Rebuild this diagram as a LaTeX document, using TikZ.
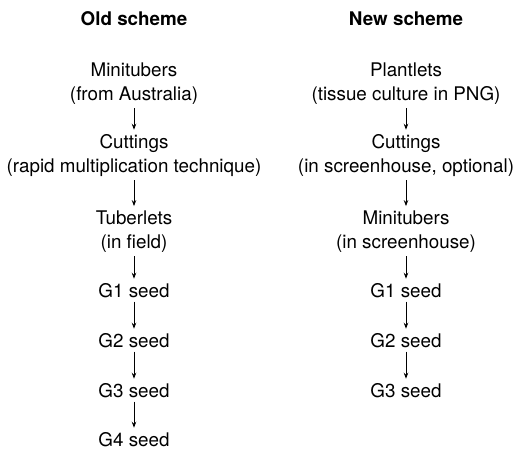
\documentclass[tikz,border=0pt]{standalone}
\usepackage{fontspec}
\setmainfont{TeX Gyre Heros}
\usetikzlibrary{arrows.meta}

\begin{document}
\begin{tikzpicture}[x=1pt, y=-1pt,
    stage/.style={font=\fontsize{18.8}{24}\selectfont, align=center,
                  inner sep=0pt, anchor=base},
    head/.style={stage, font=\fontsize{18.8}{24}\selectfont\bfseries},
    flow/.style={-{Stealth[length=6pt, width=4.5pt]}, line width=0.9pt,
                 shorten <=4pt, shorten >=4pt}]
  \useasboundingbox (0,0) rectangle (523,450);

  % Headers
  \node[head] (oldhead) at (134,25) {Old scheme};
  \node[head] (newhead) at (406,25) {New scheme};

  % Old scheme (base = last line)
  \node[stage] (oldmini) at (134,100) {Minitubers\\(from Australia)};
  \node[stage] (oldcut)  at (134,172) {Cuttings\\(rapid multiplication technique)};
  \node[stage] (oldtub)  at (134,248) {Tuberlets\\(in field)};
  \node[stage] (oldga)   at (134,297) {G1 seed};
  \node[stage] (oldgb)   at (134,347) {G2 seed};
  \node[stage] (oldgc)   at (134,397) {G3 seed};
  \node[stage] (oldgd)   at (134,446) {G4 seed};

  % New scheme
  \node[stage] (newplant) at (406,100) {Plantlets\\(tissue culture in PNG)};
  \node[stage] (newcut)   at (406,172) {Cuttings\\(in screenhouse, optional)};
  \node[stage] (newmini)  at (406,248) {Minitubers\\(in screenhouse)};
  \node[stage] (newga)    at (406,297) {G1 seed};
  \node[stage] (newgb)    at (406,347) {G2 seed};
  \node[stage] (newgc)    at (406,397) {G3 seed};

  % Arrows
  \draw[flow] (oldmini) -- (oldcut);
  \draw[flow] (oldcut) -- (oldtub);
  \draw[flow] (oldtub) -- (oldga);
  \draw[flow] (oldga) -- (oldgb);
  \draw[flow] (oldgb) -- (oldgc);
  \draw[flow] (oldgc) -- (oldgd);
  \draw[flow] (newplant) -- (newcut);
  \draw[flow] (newcut) -- (newmini);
  \draw[flow] (newmini) -- (newga);
  \draw[flow] (newga) -- (newgb);
  \draw[flow] (newgb) -- (newgc);
\end{tikzpicture}
\end{document}
